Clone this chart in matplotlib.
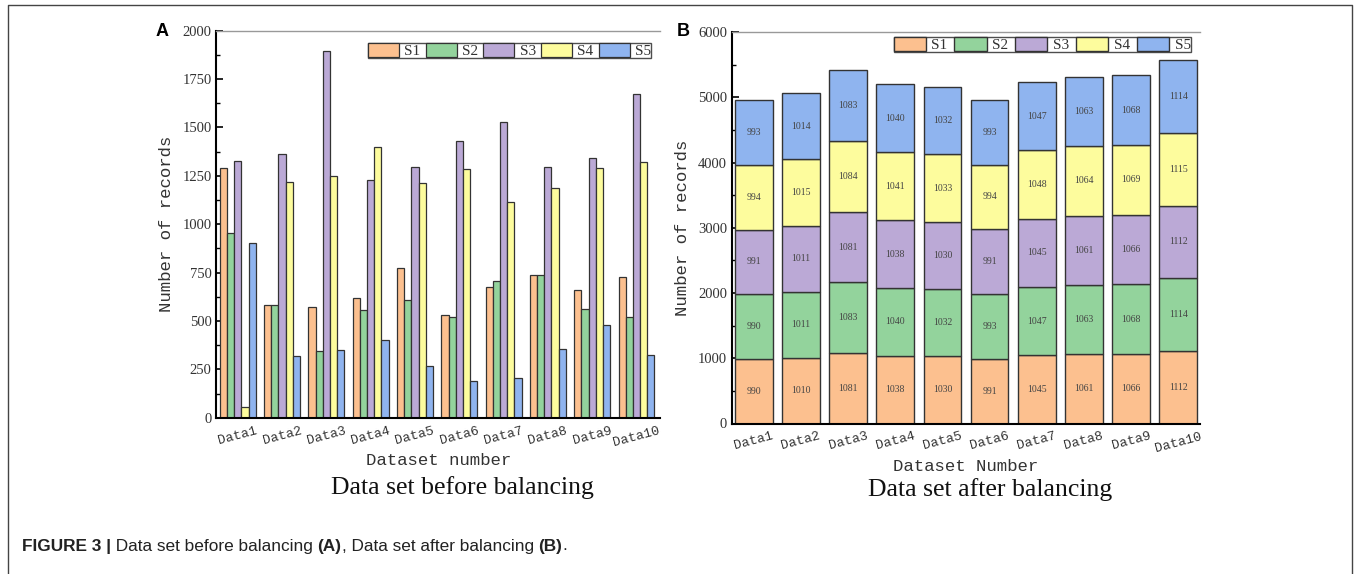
import numpy as np
import matplotlib
matplotlib.use("Agg")
import matplotlib.pyplot as plt
from matplotlib.lines import Line2D
from matplotlib.ticker import AutoMinorLocator

# data
datasets = ["Data1", "Data2", "Data3", "Data4", "Data5",
            "Data6", "Data7", "Data8", "Data9", "Data10"]
series = ["S1", "S2", "S3", "S4", "S5"]
colors = ["#FCC08F", "#93D39C", "#BBA9D6", "#FDFC9D", "#8FB4EF"]

# (A) before balancing
before_s1 = [1288, 580, 574, 617, 772, 533, 675, 737, 661, 728]
before_s2 = [953, 580, 344, 557, 608, 522, 705, 737, 564, 518]
before_s3 = [1325, 1361, 1893, 1227, 1297, 1432, 1530, 1295, 1342, 1673]
before_s4 = [57, 1220, 1249, 1397, 1213, 1285, 1116, 1189, 1292, 1321]
before_s5 = [903, 321, 352, 401, 266, 188, 207, 354, 479, 323]

# (B) after balancing
after_s1 = [990, 1010, 1081, 1038, 1030, 991, 1045, 1061, 1066, 1112]
after_s2 = [990, 1011, 1083, 1040, 1032, 993, 1047, 1063, 1068, 1114]
after_s3 = [991, 1011, 1081, 1038, 1030, 991, 1045, 1061, 1066, 1112]
after_s4 = [994, 1015, 1084, 1041, 1033, 994, 1048, 1064, 1069, 1115]
after_s5 = [993, 1014, 1083, 1040, 1032, 993, 1047, 1063, 1068, 1114]

before = [before_s1, before_s2, before_s3, before_s4, before_s5]
after = [after_s1, after_s2, after_s3, after_s4, after_s5]

SERIF = "Liberation Serif"
MONO = "Liberation Mono"
EDGE = "#333333"

fig = plt.figure(figsize=(13.57, 5.74), dpi=100)
W, H = 1357, 574


def style_axes(ax, ymax, ystep):
    ax.spines["left"].set_linewidth(1.5)
    ax.spines["bottom"].set_linewidth(1.5)
    ax.spines["top"].set_color("#999999")
    ax.spines["top"].set_linewidth(1.0)
    ax.spines["right"].set_visible(False)
    ax.set_ylim(0, ymax)
    ax.set_yticks(np.arange(0, ymax + 1, ystep))
    ax.yaxis.set_minor_locator(AutoMinorLocator(2))
    ax.tick_params(axis="both", which="major", direction="in", length=5, width=1.2)
    ax.tick_params(axis="y", which="minor", direction="in", length=3, width=1.0)
    ax.tick_params(axis="y", labelsize=10.5)
    ax.tick_params(axis="x", pad=5)
    for t in ax.get_yticklabels():
        t.set_fontfamily(SERIF)
        t.set_color("#333333")
    ax.set_xticks(np.arange(len(datasets)))
    ax.set_xticklabels(datasets, rotation=15, fontfamily=MONO, fontsize=9.5,
                       color="#333333", ha="center", va="top")


def add_legend(ax, anchor, hlen, cspace):
    leg = ax.legend(ncol=5, loc="upper right", bbox_to_anchor=anchor,
                    frameon=True, fancybox=False, borderpad=0.0, borderaxespad=0.0,
                    handlelength=hlen, handleheight=1.0, handletextpad=0.35,
                    columnspacing=cspace, prop={"family": SERIF, "size": 11})
    leg.get_frame().set_edgecolor("#222222")
    leg.get_frame().set_linewidth(1.0)
    for t in leg.get_texts():
        t.set_color("#333333")
    return leg


# ---- panel A ----
axA = fig.add_axes([216.5 / W, 156.3 / H, 443.5 / W, 387.0 / H])
x = np.arange(len(datasets))
bw = 0.162
for i, (vals, name) in enumerate(zip(before, series)):
    axA.bar(x + (i - 2) * bw, vals, bw, color=colors[i], edgecolor=EDGE,
            linewidth=0.9, label=name, zorder=2)
axA.set_xlim(-0.48, 9.53)
style_axes(axA, 2000, 250)
axA.set_ylabel("Number of records", fontfamily=MONO, fontsize=12.5,
               color="#333333", labelpad=6)
axA.set_xlabel("Dataset number", fontfamily=MONO, fontsize=12.5,
               color="#333333", labelpad=3)
add_legend(axA, (0.98, 0.968), 2.02, 0.35)

# ---- panel B ----
axB = fig.add_axes([732 / W, 150.5 / H, 468 / W, 391.5 / H])
bottom = np.zeros(len(datasets))
for i, (vals, name) in enumerate(zip(after, series)):
    bars = axB.bar(x, vals, 0.8, bottom=bottom, color=colors[i], edgecolor=EDGE,
                   linewidth=1.0, label=name, zorder=2)
    axB.bar_label(bars, labels=[str(v) for v in vals], label_type="center",
                  fontsize=7, fontfamily=SERIF, color="#444444")
    bottom += np.array(vals)
axB.set_xlim(-0.46, 9.46)
style_axes(axB, 6000, 1000)
axB.set_ylabel("Number of records", fontfamily=MONO, fontsize=12.5,
               color="#333333", labelpad=6)
axB.set_xlabel("Dataset Number", fontfamily=MONO, fontsize=12.5,
               color="#333333", labelpad=3)
add_legend(axB, (0.98, 0.987), 2.1, 0.48)

# panel titles and letters
fig.text(462 / W, 1 - 488 / H, "Data set before balancing", fontfamily=SERIF,
         fontsize=18.5, ha="center", va="center", color="#111111")
fig.text(990 / W, 1 - 490 / H, "Data set after balancing", fontfamily=SERIF,
         fontsize=18.5, ha="center", va="center", color="#111111")
fig.text(162 / W, 1 - 32 / H, "A", fontfamily="Liberation Sans", fontsize=13,
         fontweight="bold", ha="center", va="center")
fig.text(683 / W, 1 - 32 / H, "B", fontfamily="Liberation Sans", fontsize=13,
         fontweight="bold", ha="center", va="center")

# outer frame (open at the bottom)
x0, x1, yt = 8 / W, 1352 / W, 1 - 5 / H
fig.add_artist(Line2D([x0, x0, x1, x1], [0, yt, yt, 0], transform=fig.transFigure,
                      color="#444444", linewidth=1.0))

# caption with mixed weights
renderer = fig.canvas.get_renderer()
pieces = [("FIGURE 3 |", "bold"), (" Data set before balancing ", "normal"),
          ("(A)", "bold"), (", Data set after balancing ", "normal"),
          ("(B)", "bold"), (".", "normal")]
cx = 22 / W
for txt, wt in pieces:
    t = fig.text(cx, 1 - 546 / H, txt, fontfamily="Liberation Sans", fontsize=12.4,
                 fontweight=wt, ha="left", va="center", color="#222222")
    bb = t.get_window_extent(renderer)
    cx = bb.x1 / fig.bbox.width

fig.savefig("out.png", dpi=100)
